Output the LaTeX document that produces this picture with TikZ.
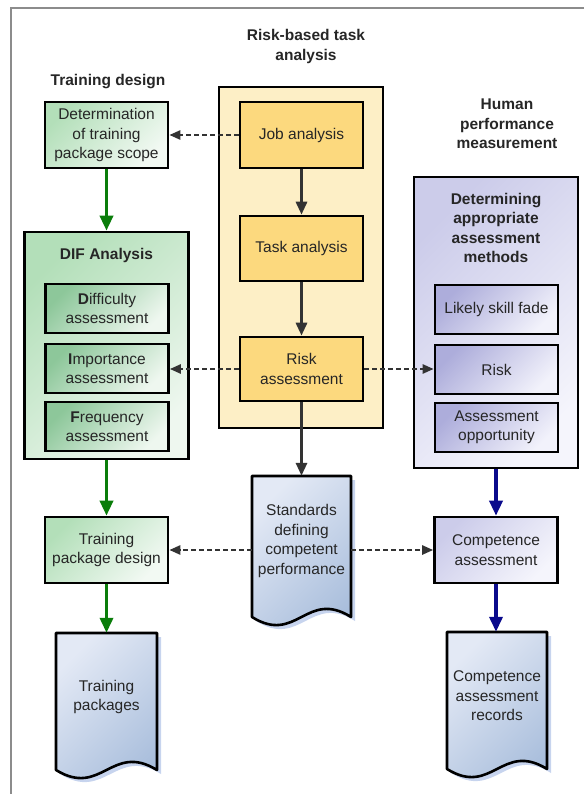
\documentclass[tikz,border=0pt]{standalone}
\usepackage{fontspec}
\setmainfont{Liberation Sans}
\usetikzlibrary{arrows.meta}

\definecolor{txt}{HTML}{262626}
\definecolor{frame}{HTML}{8C8C8C}
\definecolor{arrgray}{HTML}{333333}
\definecolor{grnarrow}{HTML}{0A7D0A}
\definecolor{bluarrow}{HTML}{0A0A8C}
\definecolor{ylwback}{HTML}{FDEFC6}
\definecolor{ylwbox}{HTML}{FCD97E}
\definecolor{grnA}{HTML}{B3DFB9}
\definecolor{grnB}{HTML}{F2F9F3}
\definecolor{grnC}{HTML}{8DC79A}
\definecolor{grnD}{HTML}{EEF7EF}
\definecolor{bluA}{HTML}{CCCCEA}
\definecolor{bluB}{HTML}{F5F5FC}
\definecolor{bluC}{HTML}{ADADDB}
\definecolor{bluD}{HTML}{F2F2FB}
\definecolor{docA}{HTML}{E3E9F5}
\definecolor{docB}{HTML}{A9BEDC}
\definecolor{docshadow}{HTML}{C7D4EE}

\newcommand\fs{\fontsize{15.5}{19.5}\selectfont}

% document symbol: left x, right x, top y, bottom corner y
\newcommand\drawdoc[4]{%
  \pgfmathsetmacro\dwid{#2-#1}%
  \begin{scope}[shift={(4,4)}]
    \fill[docshadow] (#1,#3) -- (#2,#3) -- (#2,#4)
      .. controls ({#2-0.45*\dwid},{#4-28}) and ({#1+0.45*\dwid},{#4+28}) .. (#1,#4) -- cycle;
  \end{scope}
  \path[draw=black, line width=2.6pt, line join=round,
        top color=docA, bottom color=docB, shading angle=45]
    (#1,#3) -- (#2,#3) -- (#2,#4)
      .. controls ({#2-0.45*\dwid},{#4-28}) and ({#1+0.45*\dwid},{#4+28}) .. (#1,#4) -- cycle;
}

\begin{document}
\begin{tikzpicture}[x=1pt, y=-1pt,
  box/.style={draw=black, line width=2.6pt, minimum width=123pt, align=center,
    font=\fs, text=txt, inner sep=2pt},
  ylw/.style={box, fill=ylwbox},
  grn/.style={box, top color=grnA, bottom color=grnB, shading angle=45},
  grnin/.style={box, top color=grnC, bottom color=grnD, shading angle=45, minimum height=49pt},
  blu/.style={box, top color=bluA, bottom color=bluB, shading angle=45},
  bluin/.style={box, top color=bluC, bottom color=bluD, shading angle=45, minimum height=49pt},
  group/.style={draw=black, line width=2.6pt, minimum width=164pt},
  heading/.style={font=\fs\bfseries, text=txt, align=center, inner sep=0pt},
  doctext/.style={font=\fs, text=txt, align=center, inner sep=0pt},
  grayarrow/.style={draw=arrgray, line width=3pt, -{Triangle[length=13pt,width=11pt]}},
  greenarrow/.style={draw=grnarrow, line width=3.5pt, -{Triangle[length=15pt,width=13pt]}},
  bluearrow/.style={draw=bluarrow, line width=3.5pt, -{Triangle[length=15pt,width=13pt]}},
  dasharrow/.style={draw=arrgray, line width=2.4pt, dash pattern=on 5pt off 3pt,
    -{Triangle[length=11pt,width=9pt]}}
]
\useasboundingbox (0,0) rectangle (584,794);

% outer frame
\draw[frame, line width=2pt] (584,8) -- (11,8) -- (11,794);

% column headings
\node[heading] (hrisk) at (306,46.5) {Risk-based task\\analysis};
\node[heading] (htrain) at (108,82) {Training design};
\node[heading] (hhuman) at (507,124) {Human\\performance\\measurement};

% risk-based task analysis
\node[group, fill=ylwback, minimum height=341pt] (rbta) at (301,257.5) {};
\node[ylw, minimum height=66pt] (job) at (301.5,135) {Job analysis};
\node[ylw, minimum height=65pt] (task) at (301.5,248.5) {Task analysis};
\node[ylw, minimum height=64pt] (riska) at (301.5,369) {Risk\\assessment};

% training design
\node[grn, minimum height=66pt] (det) at (106.5,135) {Determination\\of training\\package scope};
\node[group, top color=grnA, bottom color=grnD, shading angle=45, minimum height=227pt] (dif) at (106.5,345.5) {};
\node[heading] (difh) at (106.5,255) {DIF Analysis};
\node[grnin] (diff) at (107,308.5) {\textbf{D}ifficulty\\assessment};
\node[grnin] (imp) at (107,368.5) {\textbf{I}mportance\\assessment};
\node[grnin] (freq) at (107,426.5) {\textbf{F}requency\\assessment};
\node[grn, minimum height=66pt] (tpd) at (106.5,550) {Training\\package design};

% human performance measurement
\node[group, top color=bluA, bottom color=bluB, shading angle=45, minimum height=291pt] (dam) at (496,322.5) {};
\node[heading] (damh) at (496,228) {Determining\\appropriate\\assessment\\methods};
\node[bluin] (fade) at (496.5,309.5) {Likely skill fade};
\node[bluin] (riskm) at (496.5,369.5) {Risk};
\node[bluin] (opp) at (496.5,427.5) {Assessment\\opportunity};
\node[blu, minimum height=66pt] (ca) at (496,550) {Competence\\assessment};

% documents
\drawdoc{252}{351}{476}{617}
\node[doctext, minimum width=99pt, minimum height=130pt] (std) at (301.5,541) {Standards\\defining\\competent\\performance};
\drawdoc{56}{157}{633}{770}
\node[doctext, minimum width=101pt, minimum height=128pt] (tp) at (106.5,697) {Training\\packages};
\drawdoc{447}{547}{632}{769}
\node[doctext, minimum width=100pt, minimum height=128pt] (rec) at (497,696) {Competence\\assessment\\records};

% flow arrows
\draw[grayarrow] (job) -- (task);
\draw[grayarrow] (task) -- (riska);
\draw[grayarrow] (riska.south) -- (riska.south |- std.north);
\draw[greenarrow] (det) -- (dif);
\draw[greenarrow] (dif) -- (tpd);
\draw[greenarrow] (tpd.south) -- (tpd.south |- tp.north);
\draw[bluearrow] (dam) -- (ca);
\draw[bluearrow] (ca.south) -- (ca.south |- rec.north);

% information links
\draw[dasharrow] (job.west) -- (det.east);
\draw[dasharrow] (riska.west) -- (riska.west -| imp.east);
\draw[dasharrow] (riska.east) -- (riska.east -| riskm.west);
\draw[dasharrow] (tpd.east -| std.west) -- (tpd.east);
\draw[dasharrow] (ca.west -| std.east) -- (ca.west);
\end{tikzpicture}
\end{document}
